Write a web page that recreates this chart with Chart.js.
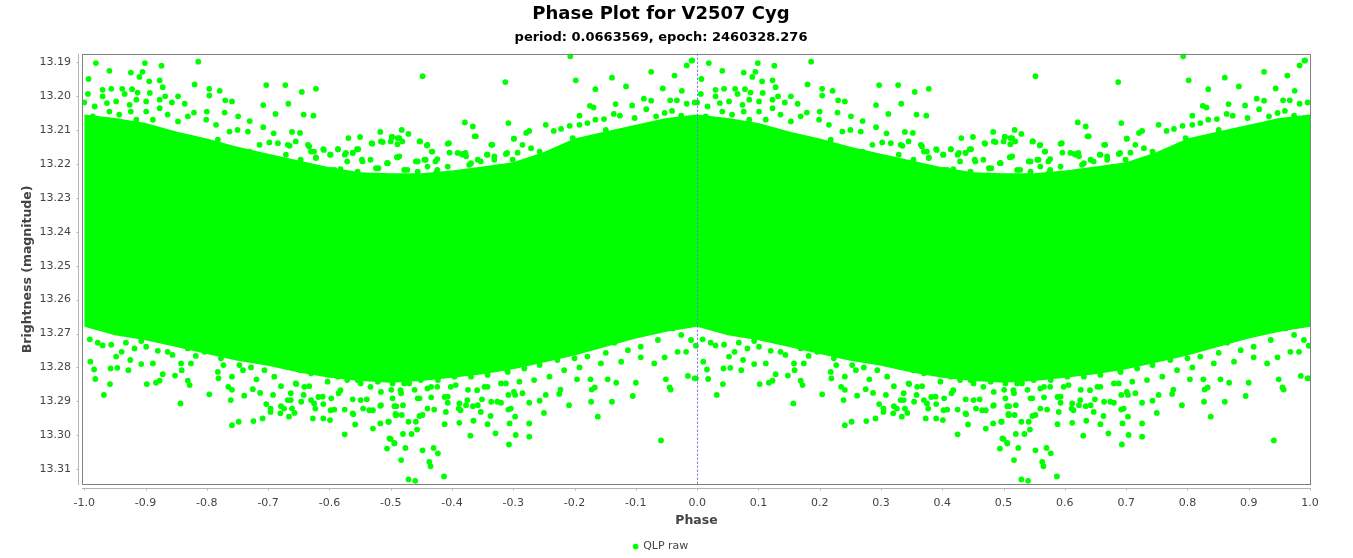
<!DOCTYPE html>
<html>
<head>
<meta charset="utf-8">
<title>Phase Plot for V2507 Cyg</title>
<script src="https://cdn.jsdelivr.net/npm/chart.js"></script>
<style>
  html, body { margin: 0; padding: 0; background: #fff; }
  #wrap { position: absolute; left: 0; top: 0; width: 1322px; height: 558px; }
</style>
</head>
<body>
<div id="wrap"><canvas id="phaseChart"></canvas></div>
<script>
// tick labels
const xTicks = [-1.0, -0.9, -0.8, -0.7, -0.6, -0.5, -0.4, -0.3, -0.2, -0.1, 0.0, 0.1, 0.2, 0.3, 0.4, 0.5, 0.6, 0.7, 0.8, 0.9, 1.0];
const yTicks = [13.19, 13.20, 13.21, 13.22, 13.23, 13.24, 13.25, 13.26, 13.27, 13.28, 13.29, 13.30, 13.31];

// dense core of the cloud, read per 0.05 phase (bright and faint edge, magnitudes)
const bandPhase  = [0, 0.05, 0.10, 0.15, 0.20, 0.25, 0.30, 0.35, 0.40, 0.45, 0.50, 0.55, 0.60, 0.65, 0.70, 0.75, 0.80, 0.85, 0.90, 0.95, 1.00];
const bandBright = [13.2055, 13.2065, 13.2080, 13.2105, 13.2125, 13.2150, 13.2170, 13.2190, 13.2210, 13.2225, 13.2228,
                    13.2228, 13.2220, 13.2208, 13.2195, 13.2165, 13.2125, 13.2105, 13.2085, 13.2065, 13.2055];
const bandFaint  = [13.2680, 13.2705, 13.2720, 13.2740, 13.2760, 13.2780, 13.2795, 13.2815, 13.2830, 13.2840, 13.2845,
                    13.2840, 13.2830, 13.2820, 13.2805, 13.2785, 13.2765, 13.2740, 13.2715, 13.2695, 13.2680];

// single observations outside the core, [phase, magnitude], phase 0..1
const brightSide = [
  [0.992,13.1895],[0.019,13.1903],[0.041,13.1926],[0.076,13.1931],[0.099,13.1903],[0.126,13.1911],[0.186,13.1899],[0.090,13.1944],
  [0.095,13.1929],[0.007,13.1950],[0.106,13.1957],[0.123,13.1954],[0.180,13.1966],[0.297,13.1968],[0.328,13.1968],[0.378,13.1979],
  [0.355,13.1988],[0.333,13.2023],[0.292,13.2027],[0.312,13.2053],[0.358,13.2055],[0.374,13.2058],[0.204,13.1979],[0.221,13.1985],
  [0.204,13.1999],[0.230,13.2013],[0.241,13.2016],[0.200,13.2046],[0.229,13.2049],[0.251,13.2060],[0.270,13.2074],[0.292,13.2092],
  [0.339,13.2106],[0.352,13.2109],[0.309,13.2110],[0.431,13.2124],[0.450,13.2121],[0.483,13.2106],[0.502,13.2121],[0.469,13.2139],
  [0.484,13.2134],[0.390,13.2157],[0.401,13.2173],[0.414,13.2157],[0.425,13.2173],[0.445,13.2157],[0.438,13.2168],[0.510,13.2180],
  [0.403,13.2218],[0.418,13.2216],[0.494,13.2198],[0.480,13.2213],[0.453,13.2188],[0.365,13.2144],[0.370,13.2164],[0.378,13.2181],
  [0.335,13.2147],[0.316,13.2139],[0.302,13.2137],[0.286,13.2144],[0.270,13.2164],[0.250,13.2100],[0.267,13.2105],[0.237,13.2105],
  [0.215,13.2085],[0.218,13.2129],[0.030,13.1982],[0.044,13.1979],[0.062,13.1979],[0.078,13.1980],[0.087,13.1990],[0.107,13.1991],
  [0.066,13.1994],[0.006,13.1994],[0.030,13.2001],[0.128,13.1974],[0.132,13.2001],[0.153,13.2001],[0.164,13.2023],[0.179,13.2049],
  [0.143,13.2019],[0.123,13.2011],[0.101,13.2016],[0.085,13.2011],[0.074,13.2026],[0.052,13.2016],[0.037,13.2021],[0.017,13.2031],
  [0.000,13.2019],[0.014,13.2060],[0.041,13.2046],[0.057,13.2055],[0.076,13.2046],[0.101,13.2046],[0.123,13.2036],[0.136,13.2055],
  [0.153,13.2075],[0.169,13.2060],[0.199,13.2070],[0.112,13.2070],[0.085,13.2070],
  [0.552,13.1942],[0.687,13.1959],[0.793,13.1883],[0.802,13.1954],[0.834,13.1980],[0.861,13.1946],[0.884,13.1972],[0.925,13.1929],
  [0.944,13.1978],[0.963,13.1940],[0.975,13.1985],[0.983,13.1910],[0.991,13.1896],[0.913,13.2008],[0.925,13.2014],[0.956,13.2013],
  [0.967,13.2013],[0.983,13.2023],[0.996,13.2019],[0.867,13.2024],[0.894,13.2028],[0.825,13.2029],[0.831,13.2034],[0.808,13.2058],
  [0.874,13.2058],[0.864,13.2053],[0.917,13.2039],[0.933,13.2060],[0.947,13.2050],[0.959,13.2044],[0.974,13.2058],[0.848,13.2068],
  [0.834,13.2070],[0.898,13.2065],[0.621,13.2078],[0.692,13.2080],[0.634,13.2090],[0.518,13.2100],[0.529,13.2112],[0.637,13.2119],
  [0.753,13.2085],[0.778,13.2097],[0.792,13.2088],[0.766,13.2103],[0.808,13.2085],[0.726,13.2103],[0.721,13.2109],[0.701,13.2126],
  [0.502,13.2121],[0.511,13.2124],[0.511,13.2142],[0.547,13.2134],[0.559,13.2146],[0.593,13.2141],[0.664,13.2144],[0.567,13.2164],
  [0.596,13.2167],[0.616,13.2171],[0.623,13.2178],[0.657,13.2173],[0.669,13.2178],[0.688,13.2171],[0.715,13.2144],[0.729,13.2154],
  [0.743,13.2164],[0.511,13.2181],[0.541,13.2193],[0.555,13.2188],[0.576,13.2186],[0.628,13.2203],[0.642,13.2188],[0.704,13.2208],
  [0.718,13.2203],[0.522,13.2218],[0.560,13.2208],[0.574,13.2227],[0.495,13.2198],[0.797,13.2124],[0.821,13.2080],[0.851,13.2100],
  [0.332,13.2144],[0.345,13.2134],[0.367,13.2149],[0.375,13.2164],[0.391,13.2159],[0.402,13.2173],[0.414,13.2157],[0.427,13.2168],
  [0.438,13.2167],[0.447,13.2157],[0.470,13.2141],[0.487,13.2136],[0.500,13.2134],[0.514,13.2124],[0.519,13.2134],[0.548,13.2134],
  [0.560,13.2144],[0.568,13.2164],[0.595,13.2139],[0.609,13.2168],[0.622,13.2168],[0.639,13.2119],[0.658,13.2173],[0.666,13.2144],
  [0.690,13.2168],[0.701,13.2126],[0.707,13.2167],[0.329,13.2173],[0.353,13.2188],[0.378,13.2183],[0.408,13.2218],[0.429,13.2193],
  [0.454,13.2193],[0.467,13.2188],[0.476,13.2213],[0.495,13.2198],[0.514,13.2178],[0.527,13.2218],[0.544,13.2193],[0.557,13.2188],
  [0.573,13.2193],[0.576,13.2218],[0.593,13.2208],[0.617,13.2173],[0.631,13.2198],[0.647,13.2193],[0.669,13.2188],[0.679,13.2208],
  [0.699,13.2188],[0.446,13.2223],[0.544,13.2223],[0.658,13.2218]
];
const faintSide = [
  [0.998,13.2736],[0.998,13.2832],[0.010,13.2783],[0.016,13.2806],[0.018,13.2834],[0.032,13.2881],[0.042,13.2849],[0.043,13.2803],
  [0.054,13.2801],[0.072,13.2808],[0.061,13.2754],[0.075,13.2778],[0.093,13.2790],[0.102,13.2849],[0.117,13.2845],[0.123,13.2839],
  [0.112,13.2788],[0.128,13.2820],[0.148,13.2824],[0.157,13.2906],[0.159,13.2808],[0.169,13.2839],[0.172,13.2852],[0.174,13.2788],
  [0.204,13.2879],[0.218,13.2813],[0.219,13.2832],[0.227,13.2793],[0.235,13.2857],[0.239,13.2896],[0.241,13.2827],[0.241,13.2970],
  [0.241,13.2866],[0.252,13.2960],[0.261,13.2883],[0.259,13.2808],[0.275,13.2864],[0.276,13.2958],[0.281,13.2835],[0.287,13.2875],
  [0.291,13.2950],[0.297,13.2908],[0.304,13.2931],[0.304,13.2921],[0.308,13.2881],[0.321,13.2914],[0.320,13.2935],[0.334,13.2945],
  [0.332,13.2896],[0.339,13.2921],[0.343,13.2934],[0.346,13.2849],[0.358,13.2881],[0.367,13.2855],[0.373,13.2950],[0.377,13.2921],
  [0.382,13.2887],[0.390,13.2908],[0.390,13.2950],[0.401,13.2955],[0.408,13.2924],[0.415,13.2876],[0.425,13.2924],[0.425,13.2997],
  [0.439,13.2938],[0.442,13.2968],[0.455,13.2921],[0.471,13.2980],[0.471,13.2926],[0.483,13.2965],[0.483,13.2913],[0.497,13.2960],
  [0.500,13.3011],[0.494,13.3039],[0.506,13.3024],[0.508,13.2937],[0.506,13.2914],[0.461,13.2894],[0.451,13.2896],[0.438,13.2894],
  [0.403,13.2891],[0.370,13.2896],[0.354,13.2901],[0.337,13.2876],[0.321,13.2855],[0.310,13.2827],[0.294,13.2808],[0.272,13.2800],
  [0.253,13.2793],[0.223,13.2773],[0.196,13.2754],[0.182,13.2766],[0.158,13.2788],[0.144,13.2763],[0.136,13.2754],[0.120,13.2751],
  [0.101,13.2739],[0.082,13.2744],[0.052,13.2768],[0.030,13.2735],[0.022,13.2727],[0.009,13.2717],[0.044,13.2733],[0.068,13.2727],
  [0.093,13.2722],[0.169,13.2744],[0.215,13.2744],[0.240,13.2754],[0.267,13.2754],[0.299,13.2778],[0.327,13.2793],[0.348,13.2803],
  [0.381,13.2813],[0.414,13.2827],[0.446,13.2837],[0.479,13.2842],[0.501,13.2866],
  [0.517,13.3073],[0.529,13.3130],[0.540,13.3134],[0.563,13.3078],[0.565,13.3091],[0.570,13.3037],[0.577,13.3053],[0.552,13.3044],
  [0.524,13.3037],[0.587,13.3121],[0.520,13.2996],[0.534,13.2996],[0.506,13.3022],[0.498,13.3009],[0.529,13.2960],[0.543,13.2983],
  [0.541,13.2960],[0.547,13.2943],[0.509,13.2940],[0.518,13.2940],[0.496,13.2960],[0.588,13.2967],[0.612,13.2963],[0.630,13.3001],
  [0.635,13.2957],[0.658,13.2967],[0.671,13.2994],[0.693,13.3027],[0.704,13.2999],[0.694,13.2965],[0.726,13.3004],[0.726,13.2965],
  [0.703,13.2945],[0.692,13.2924],[0.663,13.2943],[0.642,13.2911],[0.623,13.2911],[0.611,13.2921],[0.590,13.2931],[0.571,13.2924],
  [0.552,13.2940],[0.750,13.2934],[0.791,13.2911],[0.838,13.2945],[0.827,13.2901],[0.861,13.2901],[0.895,13.2884],[0.941,13.3015],
  [0.957,13.2865],[0.955,13.2859],[0.949,13.2835],[0.985,13.2825],[0.996,13.2832],[0.900,13.2845],[0.868,13.2845],[0.854,13.2835],
  [0.828,13.2865],[0.833,13.2859],[0.826,13.2835],[0.804,13.2835],[0.777,13.2865],[0.775,13.2878],[0.753,13.2881],[0.743,13.2898],
  [0.726,13.2904],[0.715,13.2876],[0.703,13.2881],[0.692,13.2881],[0.680,13.2904],[0.664,13.2901],[0.649,13.2894],[0.634,13.2914],
  [0.612,13.2906],[0.593,13.2904],[0.588,13.2887],[0.566,13.2888],[0.547,13.2891],[0.520,13.2911],[0.509,13.2914],[0.503,13.2891],
  [0.517,13.2876],[0.539,13.2866],[0.566,13.2857],[0.598,13.2857],[0.626,13.2866],[0.653,13.2857],[0.680,13.2847],[0.710,13.2842],
  [0.734,13.2837],[0.759,13.2827],[0.783,13.2808],[0.808,13.2800],[0.843,13.2788],[0.876,13.2783],[0.908,13.2770],[0.930,13.2788],
  [0.947,13.2770],[0.968,13.2754],[0.982,13.2754],[0.990,13.2719],[0.974,13.2704],[0.960,13.2685],[0.936,13.2719],[0.908,13.2739],
  [0.887,13.2749],[0.865,13.2727],[0.851,13.2757],[0.821,13.2768],[0.800,13.2773],[0.772,13.2778],[0.743,13.2793],[0.718,13.2803],
  [0.691,13.2813],[0.658,13.2822],[0.631,13.2827],[0.604,13.2827],[0.577,13.2837],[0.549,13.2837],[0.522,13.2847],
  [0.332,13.2798],[0.345,13.2847],[0.359,13.2857],[0.370,13.2817],[0.386,13.2817],[0.397,13.2842],[0.418,13.2867],[0.429,13.2837],
  [0.451,13.2847],[0.467,13.2857],[0.484,13.2872],[0.503,13.2847],[0.516,13.2867],[0.530,13.2847],[0.544,13.2891],[0.560,13.2862],
  [0.576,13.2857],[0.593,13.2886],[0.606,13.2852],[0.625,13.2896],[0.641,13.2867],[0.658,13.2857],[0.674,13.2901],[0.688,13.2847],
  [0.701,13.2872],[0.337,13.2896],[0.326,13.2921],[0.375,13.2906],[0.389,13.2886],[0.402,13.2926],[0.438,13.2935],[0.465,13.2926],
  [0.484,13.2911],[0.508,13.2940],[0.560,13.2921],[0.614,13.2926],[0.647,13.2931],[0.696,13.2921],[0.353,13.2808],[0.690,13.2808]
];

const GREEN = '#00ff00';

// a phase plot shows every cycle twice: once at phase-1 and once at phase
function twoCycles(pairs) {
  const out = [];
  pairs.forEach(([p, m]) => {
    out.push({ x: p - 1, y: m });
    out.push({ x: p, y: m });
  });
  return out;
}

function bandEdge(mags) {
  const out = bandPhase.map((p, i) => ({ x: p - 1, y: mags[i] }));
  bandPhase.forEach((p, i) => { if (i > 0) out.push({ x: p, y: mags[i] }); });
  return out;
}

// frame, offset axis lines and the dashed epoch marker, JFreeChart style
const phaseFrame = {
  id: 'phaseFrame',
  afterDatasetsDraw(chart) {
    const { ctx, chartArea: a, scales: { x, y } } = chart;
    ctx.save();
    const x0 = Math.round(x.getPixelForValue(0)) + 0.5;
    ctx.strokeStyle = '#6a6aff';
    ctx.lineWidth = 1;
    ctx.setLineDash([2, 2]);
    ctx.beginPath();
    ctx.moveTo(x0, a.top);
    ctx.lineTo(x0, a.bottom);
    ctx.stroke();
    ctx.setLineDash([]);

    ctx.strokeStyle = '#808080';
    ctx.strokeRect(Math.round(a.left) + 0.5, Math.round(a.top) + 0.5,
                   Math.round(a.width) - 1, Math.round(a.height) - 1);

    const ax = Math.round(a.left) - 3.5;
    const ay = Math.round(a.bottom) + 3.5;
    ctx.strokeStyle = '#b4b4b4';
    ctx.beginPath();
    ctx.moveTo(ax, a.top); ctx.lineTo(ax, a.bottom);
    ctx.moveTo(a.left, ay); ctx.lineTo(a.right, ay);
    y.ticks.forEach(t => {
      const py = Math.round(y.getPixelForValue(t.value)) + 0.5;
      ctx.moveTo(ax - 2, py); ctx.lineTo(ax, py);
    });
    x.ticks.forEach(t => {
      const px = Math.round(x.getPixelForValue(t.value)) + 0.5;
      ctx.moveTo(px, ay); ctx.lineTo(px, ay + 2);
    });
    ctx.stroke();
    ctx.restore();
  }
};

const tickFont = { family: 'DejaVu Sans', size: 11 };
const axisTitleFont = { family: 'DejaVu Sans', size: 12.5, weight: 'bold' };

new Chart(document.getElementById('phaseChart'), {
  type: 'scatter',
  data: {
    datasets: [
      {
        label: 'QLP raw',
        data: twoCycles(brightSide.concat(faintSide)),
        backgroundColor: GREEN,
        borderColor: GREEN,
        borderWidth: 0,
        pointRadius: 2.9,
        pointStyle: 'circle'
      },
      {
        type: 'line',
        label: 'core bright edge',
        data: bandEdge(bandBright),
        borderWidth: 0,
        borderColor: GREEN,
        backgroundColor: GREEN,
        pointRadius: 0,
        fill: '+1'
      },
      {
        type: 'line',
        label: 'core faint edge',
        data: bandEdge(bandFaint),
        borderWidth: 0,
        borderColor: GREEN,
        backgroundColor: GREEN,
        pointRadius: 0,
        fill: false
      }
    ]
  },
  options: {
    responsive: true,
    maintainAspectRatio: false,
    animation: false,
    events: [],
    layout: { padding: { top: 4, right: 0, bottom: -4, left: 0 } },
    plugins: {
      title: {
        display: true,
        text: 'Phase Plot for V2507 Cyg',
        color: '#000',
        font: { family: 'DejaVu Sans', size: 18, weight: 'bold' },
        padding: { top: 0, bottom: 4 }
      },
      subtitle: {
        display: true,
        text: 'period: 0.0663569, epoch: 2460328.276',
        color: '#000',
        font: { family: 'DejaVu Sans', size: 13, weight: 'bold' },
        padding: { top: 0, bottom: 8.5 }
      },
      legend: {
        position: 'bottom',
        labels: {
          filter: item => item.datasetIndex === 0,
          usePointStyle: true,
          boxWidth: 4,
          boxHeight: 4,
          padding: 6,
          color: '#444',
          font: tickFont
        }
      },
      tooltip: { enabled: false }
    },
    scales: {
      x: {
        type: 'linear',
        min: -1.0037,
        max: 1.0016,
        afterBuildTicks: axis => { axis.ticks = xTicks.map(v => ({ value: v })); },
        afterFit: scale => {
          scale.height = 50;
          scale.paddingLeft = 0;
          scale.paddingRight = 11;
        },
        grid: { display: false, drawTicks: false },
        border: { display: false },
        ticks: {
          padding: 12,
          color: '#444',
          font: tickFont,
          callback: v => v.toFixed(1)
        },
        title: {
          display: true,
          text: 'Phase',
          color: '#444',
          font: axisTitleFont,
          padding: { top: 0, bottom: 7 }
        }
      },
      y: {
        type: 'linear',
        reverse: true,
        min: 13.18755,
        max: 13.31463,
        afterBuildTicks: axis => { axis.ticks = yTicks.map(v => ({ value: v })); },
        afterFit: scale => {
          scale.width = 82;
          scale.paddingTop = 0;
          scale.paddingBottom = 0;
        },
        grid: { display: false, drawTicks: false },
        border: { display: false },
        ticks: {
          padding: 11,
          color: '#444',
          font: tickFont,
          callback: v => v.toFixed(2)
        },
        title: {
          display: true,
          text: 'Brightness (magnitude)',
          color: '#444',
          font: axisTitleFont,
          padding: { top: 20, bottom: 0 }
        }
      }
    }
  },
  plugins: [phaseFrame]
});
</script>
</body>
</html>
